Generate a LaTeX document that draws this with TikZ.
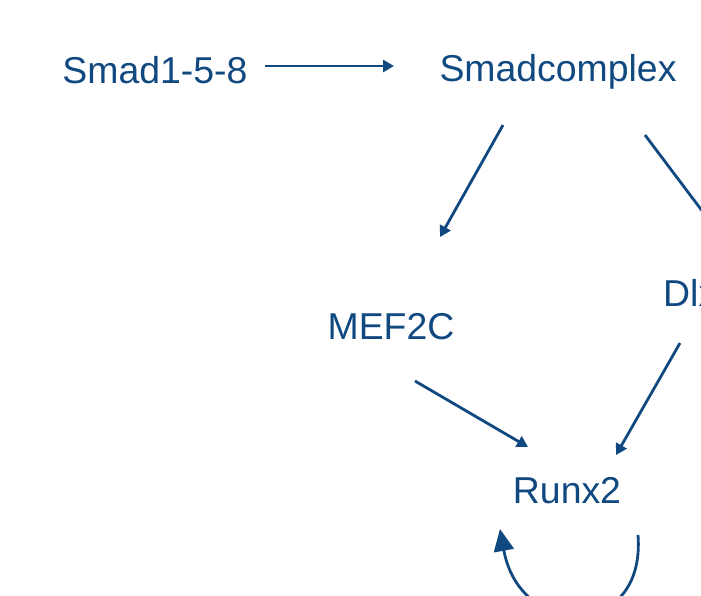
\documentclass[tikz,border=0pt]{standalone}
\usepackage{fontspec}
\setmainfont{Liberation Sans}
\usetikzlibrary{arrows.meta}
\definecolor{nodeblue}{RGB}{16,72,128}
\begin{document}
\begin{tikzpicture}[x=1pt,y=-1pt,
  lbl/.style={text=nodeblue,inner sep=0pt,font=\fontsize{37.4}{44}\selectfont},
  conn/.style={draw=nodeblue,line width=2.8pt,-{Triangle[length=11pt,width=12pt]}},
  loopconn/.style={draw=nodeblue,line width=2.8pt,-{Triangle[length=22pt,width=20pt]}}]
\useasboundingbox (0,0) rectangle (701,595);
\clip (0,0) rectangle (701,595);
\node[lbl] (smad) at (155,70) {Smad1-5-8};
\node[lbl] (smadc) at (558,72) {Smadcomplex};
\node[lbl] (mef) at (391,327) {MEF2C};
\node[lbl,anchor=west] (dlx) at (663,293) {Dlx5};
\node[lbl] (runx) at (567,491) {Runx2};
\coordinate (s1) at (265,66); \coordinate (s2) at (394,66);
\coordinate (c1) at (503,125); \coordinate (c2) at (440,237);
\coordinate (c3) at (645,135); \coordinate (c4) at (712,224);
\coordinate (m1) at (415,381); \coordinate (m2) at (528,447);
\coordinate (d1) at (680,343); \coordinate (d2) at (616,455);
\coordinate (r1) at (638,535); \coordinate (r2) at (500,529);
\draw[conn] (s1) -- (s2);
\draw[conn] (c1) -- (c2);
\draw[draw=nodeblue,line width=2.8pt] (c3) -- (c4);
\draw[conn] (m1) -- (m2);
\draw[conn] (d1) -- (d2);
\draw[loopconn] (r1) .. controls (646,640) and (520,640) .. (r2);
\end{tikzpicture}
\end{document}
